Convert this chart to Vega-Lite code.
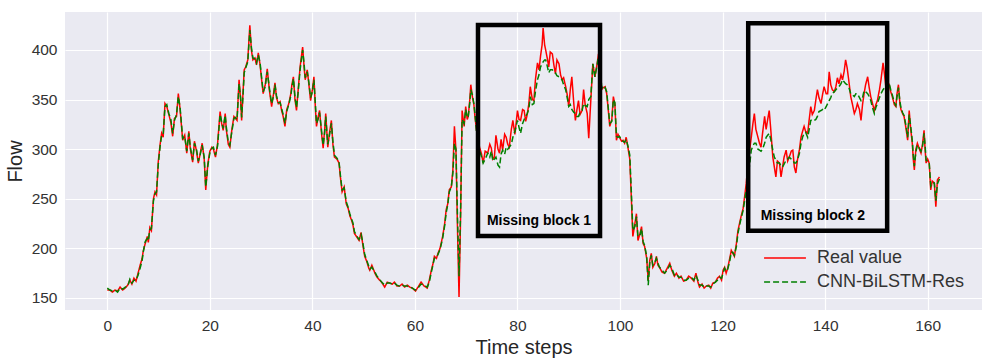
{
  "$schema": "https://vega.github.io/schema/vega-lite/v6.json",
  "width": 917,
  "height": 298,
  "autosize": {"type": "none"},
  "padding": {"left": 65, "top": 12, "right": 11, "bottom": 53},
  "background": "#ffffff",
  "config": {
    "view": {"fill": "#EAEAF2", "stroke": null},
    "font": "Liberation Sans",
    "axis": {"domain": false, "ticks": false, "grid": true, "gridColor": "#ffffff", "gridWidth": 1.2, "labelFont": "Liberation Sans", "labelFontSize": 15.5, "labelColor": "#333333", "titleFont": "Liberation Sans", "titleFontSize": 20, "titleFontWeight": "normal", "titleColor": "#262626", "labelPadding": 8}
  },
  "datasets": {
    "flow": [
{"t":0,"real":158,"pred":160},{"t":0.5,"real":158,"pred":158},{"t":1,"real":156,"pred":157},{"t":1.5,"real":158,"pred":158},{"t":2,"real":157,"pred":156},{"t":2.5,"real":161,"pred":160},{"t":3,"real":158,"pred":159},{"t":3.5,"real":160,"pred":161},{"t":4,"real":163,"pred":162},{"t":4.4,"real":168,"pred":169},{"t":4.8,"real":164,"pred":165},{"t":5.2,"real":170,"pred":168},{"t":5.6,"real":167,"pred":168},{"t":6,"real":175,"pred":173},{"t":6.4,"real":183,"pred":180},{"t":6.8,"real":190,"pred":188},{"t":7,"real":197,"pred":196},{"t":7.4,"real":205,"pred":207},{"t":7.8,"real":212,"pred":210},{"t":8,"real":206,"pred":208},{"t":8.3,"real":221,"pred":219},{"t":8.6,"real":218,"pred":220},{"t":9,"real":250,"pred":248},{"t":9.3,"real":257,"pred":255},{"t":9.6,"real":254,"pred":257},{"t":9.95,"real":288,"pred":285},{"t":10.3,"real":305,"pred":303},{"t":10.6,"real":316,"pred":314},{"t":10.9,"real":312,"pred":315},{"t":11.25,"real":346,"pred":343},{"t":11.6,"real":343,"pred":345},{"t":12,"real":335,"pred":336},{"t":12.4,"real":327,"pred":330},{"t":12.75,"real":313,"pred":316},{"t":13.1,"real":331,"pred":329},{"t":13.5,"real":333,"pred":335},{"t":13.85,"real":356,"pred":353},{"t":14.2,"real":340,"pred":342},{"t":14.7,"real":309,"pred":311},{"t":15.1,"real":314,"pred":313},{"t":15.5,"real":296,"pred":298},{"t":15.9,"real":318,"pred":316},{"t":16.2,"real":300,"pred":302},{"t":16.65,"real":287,"pred":289},{"t":17,"real":308,"pred":306},{"t":17.4,"real":298,"pred":300},{"t":17.75,"real":286,"pred":288},{"t":18.1,"real":295,"pred":294},{"t":18.5,"real":306,"pred":304},{"t":18.9,"real":290,"pred":292},{"t":19.2,"real":259,"pred":262},{"t":19.6,"real":285,"pred":283},{"t":20,"real":298,"pred":296},{"t":20.4,"real":302,"pred":301},{"t":20.7,"real":300,"pred":302},{"t":21.1,"real":292,"pred":294},{"t":21.5,"real":305,"pred":303},{"t":22,"real":338,"pred":335},{"t":22.3,"real":326,"pred":328},{"t":22.6,"real":319,"pred":321},{"t":23,"real":336,"pred":334},{"t":23.2,"real":320,"pred":323},{"t":23.6,"real":305,"pred":307},{"t":23.9,"real":302,"pred":304},{"t":24.3,"real":320,"pred":318},{"t":24.7,"real":333,"pred":331},{"t":25,"real":331,"pred":332},{"t":25.3,"real":329,"pred":330},{"t":25.7,"real":370,"pred":366},{"t":26,"real":350,"pred":352},{"t":26.2,"real":329,"pred":332},{"t":26.5,"real":360,"pred":357},{"t":26.7,"real":380,"pred":377},{"t":27,"real":383,"pred":382},{"t":27.4,"real":390,"pred":388},{"t":27.8,"real":425,"pred":420},{"t":28.1,"real":400,"pred":403},{"t":28.4,"real":390,"pred":392},{"t":28.8,"real":392,"pred":391},{"t":29.1,"real":385,"pred":387},{"t":29.45,"real":397,"pred":395},{"t":29.8,"real":385,"pred":387},{"t":30.1,"real":370,"pred":372},{"t":30.4,"real":356,"pred":358},{"t":30.8,"real":365,"pred":363},{"t":31.2,"real":381,"pred":378},{"t":31.6,"real":360,"pred":362},{"t":32.05,"real":343,"pred":346},{"t":32.4,"real":355,"pred":353},{"t":32.7,"real":367,"pred":365},{"t":33,"real":352,"pred":354},{"t":33.35,"real":346,"pred":347},{"t":33.7,"real":348,"pred":347},{"t":34,"real":339,"pred":341},{"t":34.3,"real":333,"pred":335},{"t":34.65,"real":323,"pred":326},{"t":35,"real":340,"pred":338},{"t":35.4,"real":346,"pred":345},{"t":35.8,"real":356,"pred":354},{"t":36,"real":365,"pred":362},{"t":36.3,"real":373,"pred":371},{"t":36.6,"real":350,"pred":353},{"t":36.9,"real":339,"pred":342},{"t":37.2,"real":358,"pred":356},{"t":37.6,"real":383,"pred":380},{"t":38.1,"real":403,"pred":400},{"t":38.4,"real":382,"pred":385},{"t":38.6,"real":370,"pred":372},{"t":39,"real":380,"pred":378},{"t":39.3,"real":366,"pred":368},{"t":39.65,"real":349,"pred":352},{"t":40,"real":360,"pred":358},{"t":40.3,"real":373,"pred":370},{"t":40.6,"real":340,"pred":344},{"t":40.8,"real":323,"pred":326},{"t":41.1,"real":332,"pred":330},{"t":41.4,"real":339,"pred":337},{"t":41.8,"real":315,"pred":318},{"t":42.1,"real":301,"pred":304},{"t":42.4,"real":320,"pred":317},{"t":42.6,"real":336,"pred":333},{"t":43,"real":302,"pred":305},{"t":43.3,"real":315,"pred":313},{"t":43.7,"real":329,"pred":326},{"t":44,"real":305,"pred":308},{"t":44.3,"real":292,"pred":294},{"t":44.8,"real":290,"pred":291},{"t":45.2,"real":286,"pred":287},{"t":45.5,"real":270,"pred":272},{"t":45.8,"real":257,"pred":259},{"t":46.2,"real":262,"pred":261},{"t":46.6,"real":245,"pred":247},{"t":47,"real":240,"pred":241},{"t":47.3,"real":233,"pred":235},{"t":47.6,"real":229,"pred":230},{"t":47.9,"real":224,"pred":226},{"t":48.2,"real":215,"pred":217},{"t":48.6,"real":212,"pred":213},{"t":49.1,"real":208,"pred":209},{"t":49.5,"real":216,"pred":214},{"t":49.8,"real":205,"pred":207},{"t":50.2,"real":192,"pred":194},{"t":50.6,"real":187,"pred":188},{"t":51,"real":180,"pred":182},{"t":51.2,"real":178,"pred":179},{"t":51.6,"real":183,"pred":181},{"t":52.2,"real":175,"pred":176},{"t":52.6,"real":171,"pred":172},{"t":53.1,"real":168,"pred":169},{"t":53.5,"real":166,"pred":166},{"t":54.1,"real":161,"pred":163},{"t":54.6,"real":166,"pred":165},{"t":55.1,"real":165,"pred":165},{"t":55.6,"real":164,"pred":164},{"t":56,"real":166,"pred":165},{"t":56.5,"real":162,"pred":163},{"t":57,"real":162,"pred":162},{"t":57.5,"real":164,"pred":163},{"t":58,"real":161,"pred":162},{"t":58.5,"real":163,"pred":162},{"t":59,"real":161,"pred":161},{"t":59.5,"real":160,"pred":160},{"t":60.1,"real":157,"pred":158},{"t":60.6,"real":161,"pred":160},{"t":61.2,"real":166,"pred":164},{"t":61.8,"real":162,"pred":163},{"t":62.4,"real":160,"pred":161},{"t":62.8,"real":168,"pred":166},{"t":63.2,"real":178,"pred":176},{"t":63.5,"real":184,"pred":183},{"t":63.8,"real":192,"pred":190},{"t":64.2,"real":190,"pred":191},{"t":64.5,"real":195,"pred":194},{"t":64.9,"real":200,"pred":199},{"t":65.4,"real":212,"pred":210},{"t":65.8,"real":225,"pred":223},{"t":66.1,"real":239,"pred":236},{"t":66.4,"real":245,"pred":244},{"t":66.7,"real":259,"pred":257},{"t":67.1,"real":262,"pred":262},{"t":67.4,"real":279,"pred":276},{"t":67.7,"real":323,"pred":306},{"t":68,"real":299,"pred":300},{"t":68.3,"real":220,"pred":232},{"t":68.6,"real":151,"pred":172},{"t":68.9,"real":230,"pred":236},{"t":69.2,"real":339,"pred":330},{"t":69.6,"real":323,"pred":326},{"t":69.9,"real":343,"pred":340},{"t":70.2,"real":330,"pred":332},{"t":70.4,"real":333,"pred":333},{"t":70.7,"real":350,"pred":347},{"t":70.9,"real":365,"pred":360},{"t":71.2,"real":353,"pred":355},{"t":71.5,"real":345,"pred":346},{"t":71.7,"real":333,"pred":336},{"t":72,"real":320,"pred":318},
{"t":72.3,"real":310,"pred":305},{"t":72.6,"real":302,"pred":299},{"t":73,"real":295,"pred":292},{"t":73.3,"real":286,"pred":286},{"t":73.7,"real":298,"pred":290},{"t":74.2,"real":296,"pred":296},{"t":74.6,"real":305,"pred":292},{"t":74.9,"real":301,"pred":298},{"t":75.2,"real":290,"pred":288},{"t":75.5,"real":292,"pred":290},{"t":75.8,"real":314,"pred":292},{"t":76.2,"real":300,"pred":284},{"t":76.5,"real":296,"pred":282},{"t":76.8,"real":310,"pred":295},{"t":77.1,"real":299,"pred":299},{"t":77.5,"real":315,"pred":295},{"t":77.8,"real":312,"pred":302},{"t":78.1,"real":305,"pred":300},{"t":78.4,"real":302,"pred":302},{"t":78.8,"real":320,"pred":305},{"t":79.1,"real":329,"pred":312},{"t":79.5,"real":315,"pred":318},{"t":80,"real":339,"pred":329},{"t":80.3,"real":330,"pred":322},{"t":80.6,"real":329,"pred":316},{"t":81,"real":340,"pred":326},{"t":81.3,"real":339,"pred":330},{"t":81.6,"real":328,"pred":333},{"t":81.9,"real":335,"pred":336},{"t":82.2,"real":345,"pred":340},{"t":82.5,"real":363,"pred":353},{"t":82.9,"real":350,"pred":345},{"t":83.2,"real":349,"pred":346},{"t":83.5,"real":370,"pred":358},{"t":83.9,"real":387,"pred":370},{"t":84.2,"real":380,"pred":375},{"t":84.5,"real":394,"pred":383},{"t":84.8,"real":405,"pred":386},{"t":85,"real":422,"pred":388},{"t":85.3,"real":405,"pred":390},{"t":85.5,"real":400,"pred":390},{"t":85.8,"real":392,"pred":384},{"t":86.1,"real":383,"pred":377},{"t":86.4,"real":398,"pred":380},{"t":86.8,"real":396,"pred":380},{"t":87.1,"real":385,"pred":378},{"t":87.4,"real":376,"pred":377},{"t":87.7,"real":390,"pred":374},{"t":88.1,"real":386,"pred":373},{"t":88.4,"real":375,"pred":372},{"t":88.7,"real":370,"pred":370},{"t":89,"real":372,"pred":365},{"t":89.4,"real":363,"pred":360},{"t":89.7,"real":355,"pred":352},{"t":90,"real":343,"pred":343},{"t":90.3,"real":360,"pred":345},{"t":90.6,"real":373,"pred":340},{"t":91,"real":345,"pred":337},{"t":91.3,"real":329,"pred":336},{"t":91.6,"real":340,"pred":333},{"t":91.9,"real":349,"pred":333},{"t":92.2,"real":335,"pred":337},{"t":92.6,"real":339,"pred":339},{"t":92.9,"real":360,"pred":346},{"t":93.2,"real":345,"pred":344},{"t":93.6,"real":336,"pred":343},{"t":93.9,"real":311,"pred":350},{"t":94.3,"real":349,"pred":353},{"t":94.7,"real":386,"pred":386},{"t":95.1,"real":373,"pred":373},{"t":95.5,"real":385,"pred":384},{"t":95.8,"real":396,"pred":394},{"t":96.1,"real":390,"pred":391},{"t":96.4,"real":360,"pred":364},{"t":96.7,"real":362,"pred":360},{"t":97.1,"real":363,"pred":362},{"t":97.4,"real":356,"pred":358},{"t":97.7,"real":340,"pred":342},{"t":98,"real":323,"pred":326},{"t":98.4,"real":330,"pred":328},{"t":98.7,"real":353,"pred":350},{"t":99,"real":345,"pred":347},{"t":99.3,"real":309,"pred":313},{"t":99.6,"real":315,"pred":312},{"t":99.9,"real":312,"pred":313},{"t":100.3,"real":308,"pred":309},{"t":100.6,"real":309,"pred":308},{"t":100.9,"real":306,"pred":307},{"t":101.2,"real":312,"pred":310},{"t":101.6,"real":300,"pred":302},{"t":101.9,"real":290,"pred":294},{"t":102.2,"real":252,"pred":258},{"t":102.5,"real":212,"pred":218},{"t":102.9,"real":225,"pred":222},{"t":103.2,"real":235,"pred":232},{"t":103.5,"real":208,"pred":212},{"t":103.9,"real":215,"pred":213},{"t":104.2,"real":222,"pred":220},{"t":104.5,"real":205,"pred":207},{"t":104.8,"real":202,"pred":203},{"t":105.2,"real":190,"pred":192},{"t":105.5,"real":168,"pred":163},{"t":105.8,"real":188,"pred":185},{"t":106.1,"real":195,"pred":193},{"t":106.4,"real":181,"pred":183},{"t":106.8,"real":185,"pred":186},{"t":107.1,"real":192,"pred":190},{"t":107.4,"real":183,"pred":185},{"t":107.7,"real":181,"pred":181},{"t":108.2,"real":176,"pred":178},{"t":108.7,"real":175,"pred":175},{"t":109.2,"real":180,"pred":178},{"t":109.7,"real":185,"pred":183},{"t":110.1,"real":178,"pred":180},{"t":110.6,"real":172,"pred":173},{"t":111,"real":175,"pred":174},{"t":111.5,"real":170,"pred":171},{"t":111.9,"real":172,"pred":171},{"t":112.4,"real":167,"pred":168},{"t":112.9,"real":168,"pred":168},{"t":113.4,"real":172,"pred":170},{"t":113.9,"real":170,"pred":171},{"t":114.4,"real":167,"pred":168},{"t":114.8,"real":175,"pred":173},{"t":115.2,"real":166,"pred":168},{"t":115.5,"real":161,"pred":163},{"t":116,"real":164,"pred":163},{"t":116.4,"real":160,"pred":161},{"t":116.8,"real":162,"pred":162},{"t":117.3,"real":163,"pred":162},{"t":117.7,"real":160,"pred":161},{"t":118.1,"real":165,"pred":164},{"t":118.6,"real":166,"pred":166},{"t":119,"real":170,"pred":168},{"t":119.4,"real":172,"pred":171},{"t":119.8,"real":168,"pred":170},{"t":120.1,"real":178,"pred":175},{"t":120.4,"real":181,"pred":180},{"t":120.7,"real":175,"pred":177},{"t":121,"real":180,"pred":179},{"t":121.4,"real":190,"pred":187},{"t":121.7,"real":198,"pred":196},{"t":122,"real":195,"pred":196},{"t":122.3,"real":192,"pred":193},{"t":122.7,"real":205,"pred":202},{"t":123,"real":218,"pred":215},{"t":123.3,"real":225,"pred":223},{"t":123.6,"real":232,"pred":230},{"t":124,"real":240,"pred":238},{"t":124.3,"real":252,"pred":248},{"t":124.6,"real":265,"pred":258},
{"t":124.9,"real":282,"pred":272},{"t":125.3,"real":300,"pred":285},{"t":125.6,"real":312,"pred":299},{"t":125.9,"real":325,"pred":303},{"t":126.2,"real":336,"pred":306},{"t":126.5,"real":320,"pred":306},{"t":126.9,"real":312,"pred":300},{"t":127.2,"real":306,"pred":299},{"t":127.5,"real":302,"pred":298},{"t":127.8,"real":316,"pred":300},{"t":128.2,"real":333,"pred":306},{"t":128.5,"real":320,"pred":312},{"t":128.8,"real":330,"pred":314},{"t":129.1,"real":339,"pred":316},{"t":129.4,"real":320,"pred":310},{"t":129.8,"real":292,"pred":299},{"t":130.1,"real":282,"pred":292},{"t":130.4,"real":272,"pred":289},{"t":130.7,"real":288,"pred":286},{"t":131.1,"real":286,"pred":286},{"t":131.4,"real":272,"pred":283},{"t":131.7,"real":282,"pred":282},{"t":132,"real":292,"pred":285},{"t":132.4,"real":299,"pred":289},{"t":132.7,"real":288,"pred":290},{"t":133,"real":292,"pred":292},{"t":133.4,"real":298,"pred":290},{"t":133.7,"real":299,"pred":289},{"t":134,"real":282,"pred":286},{"t":134.3,"real":276,"pred":286},{"t":134.6,"real":289,"pred":289},{"t":135,"real":300,"pred":296},{"t":135.3,"real":312,"pred":306},{"t":135.6,"real":318,"pred":312},{"t":135.9,"real":323,"pred":316},{"t":136.2,"real":318,"pred":317},{"t":136.6,"real":316,"pred":312},{"t":136.9,"real":330,"pred":320},{"t":137.2,"real":343,"pred":329},{"t":137.5,"real":335,"pred":330},{"t":137.9,"real":339,"pred":329},{"t":138.2,"real":350,"pred":330},{"t":138.5,"real":360,"pred":333},{"t":138.8,"real":352,"pred":338},{"t":139.2,"real":346,"pred":339},{"t":139.5,"real":355,"pred":340},{"t":139.8,"real":363,"pred":339},{"t":140.2,"real":356,"pred":343},{"t":140.5,"real":356,"pred":346},{"t":140.8,"real":378,"pred":349},{"t":141.1,"real":365,"pred":352},{"t":141.4,"real":360,"pred":356},{"t":141.8,"real":358,"pred":358},{"t":142.1,"real":363,"pred":360},{"t":142.4,"real":372,"pred":362},{"t":142.7,"real":366,"pred":363},{"t":143.1,"real":375,"pred":366},{"t":143.4,"real":370,"pred":370},{"t":143.7,"real":378,"pred":368},{"t":144,"real":390,"pred":366},{"t":144.3,"real":382,"pred":365},{"t":144.6,"real":370,"pred":363},{"t":145,"real":353,"pred":356},{"t":145.3,"real":346,"pred":355},{"t":145.7,"real":336,"pred":353},{"t":146,"real":340,"pred":356},{"t":146.3,"real":346,"pred":356},{"t":146.7,"real":340,"pred":352},{"t":147,"real":329,"pred":349},{"t":147.3,"real":345,"pred":352},{"t":147.6,"real":356,"pred":359},{"t":147.9,"real":365,"pred":358},{"t":148.3,"real":373,"pred":356},{"t":148.6,"real":362,"pred":353},{"t":148.9,"real":353,"pred":349},{"t":149.3,"real":345,"pred":341},{"t":149.6,"real":339,"pred":336},{"t":149.9,"real":345,"pred":342},{"t":150.2,"real":349,"pred":346},{"t":150.6,"real":360,"pred":352},{"t":150.9,"real":370,"pred":356},{"t":151.3,"real":387,"pred":360},{"t":151.6,"real":375,"pred":362},{"t":151.9,"real":360,"pred":360},{"t":152.2,"real":368,"pred":366},{"t":152.5,"real":365,"pred":366},{"t":152.8,"real":358,"pred":360},{"t":153.1,"real":353,"pred":355},{"t":153.5,"real":345,"pred":347},{"t":153.8,"real":343,"pred":344},{"t":154,"real":355,"pred":352},{"t":154.3,"real":365,"pred":362},{"t":154.6,"real":345,"pred":348},{"t":154.8,"real":340,"pred":342},{"t":155.1,"real":336,"pred":337},{"t":155.4,"real":333,"pred":334},{"t":155.8,"real":320,"pred":323},{"t":156.1,"real":309,"pred":312},{"t":156.4,"real":339,"pred":335},{"t":156.7,"real":320,"pred":323},{"t":157,"real":306,"pred":309},{"t":157.2,"real":290,"pred":294},{"t":157.4,"real":279,"pred":283},{"t":157.7,"real":300,"pred":297},{"t":158,"real":306,"pred":304},{"t":158.4,"real":300,"pred":301},{"t":158.7,"real":296,"pred":298},{"t":159,"real":305,"pred":303},{"t":159.3,"real":319,"pred":316},{"t":159.5,"real":300,"pred":304},{"t":159.7,"real":286,"pred":289},{"t":160,"real":290,"pred":288},{"t":160.3,"real":286,"pred":287},{"t":160.6,"real":259,"pred":263},{"t":160.9,"real":268,"pred":266},{"t":161.3,"real":266,"pred":266},{"t":161.6,"real":242,"pred":248},{"t":161.9,"real":269,"pred":265},{"t":162.3,"real":272,"pred":270}
    ],
    "blocks": [
      {"x1": 72.3, "x2": 96.1, "y1": 425.2, "y2": 212.5},
      {"x1": 125.0, "x2": 152.1, "y1": 426.9, "y2": 217.9}
    ],
    "labels": [
      {"t": 84.2, "v": 228, "text": "Missing block 1"},
      {"t": 137.6, "v": 233, "text": "Missing block 2"}
    ]
  },
  "layer": [
    {
      "data": {"name": "flow"},
      "transform": [{"fold": ["real", "pred"], "as": ["series", "flow"]}],
      "mark": {"type": "line", "strokeWidth": 1.5},
      "encoding": {
        "x": {"field": "t", "type": "quantitative", "scale": {"domain": [-8.25, 170.6], "nice": false, "zero": false}, "axis": {"values": [0, 20, 40, 60, 80, 100, 120, 140, 160], "title": "Time steps", "titlePadding": 4}},
        "y": {"field": "flow", "type": "quantitative", "scale": {"domain": [137.9, 438.3], "nice": false, "zero": false}, "axis": {"values": [150, 200, 250, 300, 350, 400], "title": "Flow", "titlePadding": 6}},
        "color": {"field": "series", "type": "nominal", "scale": {"domain": ["real", "pred"], "range": ["#ff0000", "#008000"]},
          "legend": {"title": null, "orient": "none", "legendX": 705.5, "legendY": 231.5, "symbolType": "M-1.55,0H1.55", "symbolSize": 729, "symbolStrokeWidth": 1.5, "labelOffset": 17.5, "labelFontSize": 18, "labelFont": "Liberation Sans", "labelColor": "#333333", "rowPadding": 0, "padding": 0, "labelExpr": "datum.value == 'real' ? 'Real value' : 'CNN-BiLSTM-Res'"}},
        "strokeDash": {"field": "series", "type": "nominal", "scale": {"domain": ["real", "pred"], "range": [[1, 0], [6, 3]]},
          "legend": {"title": null, "orient": "none", "legendX": 705.5, "legendY": 231.5, "symbolType": "M-1.55,0H1.55", "symbolSize": 729, "symbolStrokeWidth": 1.5, "labelOffset": 17.5, "labelFontSize": 18, "labelFont": "Liberation Sans", "labelColor": "#333333", "rowPadding": 0, "padding": 0, "labelExpr": "datum.value == 'real' ? 'Real value' : 'CNN-BiLSTM-Res'"}}
      }
    },
    {
      "data": {"name": "blocks"},
      "mark": {"type": "rect", "fill": null, "fillOpacity": 0, "stroke": "#000000", "strokeWidth": 4.5},
      "encoding": {
        "x": {"field": "x1", "type": "quantitative"},
        "x2": {"field": "x2"},
        "y": {"field": "y1", "type": "quantitative"},
        "y2": {"field": "y2"}
      }
    },
    {
      "data": {"name": "labels"},
      "mark": {"type": "text", "font": "Liberation Sans", "fontSize": 14, "fontWeight": "bold", "color": "#000000", "align": "center", "baseline": "middle"},
      "encoding": {
        "x": {"field": "t", "type": "quantitative"},
        "y": {"field": "v", "type": "quantitative"},
        "text": {"field": "text"}
      }
    }
  ]
}
